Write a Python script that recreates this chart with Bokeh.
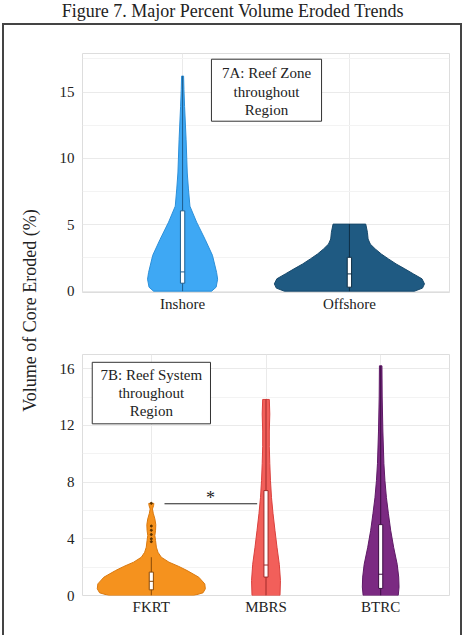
import numpy as np
from math import pi
from bokeh.plotting import figure
from bokeh.layouts import column, row
from bokeh.models import Range1d, FixedTicker, Label, Spacer, BoxAnnotation
from bokeh.embed import file_html
from bokeh.resources import INLINE

SERIF = "Liberation Serif"
TXT = "#222222"

# ---------------- Panel 7A: Reef Zone ----------------
zone_cats = ["Inshore", "Offshore"]
zone_colors = ["#3EA8F4", "#1F5A82"]
zone_lines = ["#2C8FD8", "#18496B"]
inshore_y = [0, 0.3, 0.9, 1.4, 2.7, 3.9, 5.2, 6.4, 7.7, 8.9, 11.4, 13.9, 15.2, 16.2]
inshore_w = [0.174, 0.201, 0.210, 0.204, 0.179, 0.135, 0.084, 0.044, 0.035, 0.028, 0.021, 0.012, 0.008, 0.006]
offshore_y = [0, 0.23, 0.55, 0.93, 1.3, 1.68, 2.05, 2.43, 2.8, 3.18, 3.55, 3.93, 4.43, 5.05]
offshore_w = [0.390, 0.438, 0.450, 0.435, 0.384, 0.332, 0.280, 0.234, 0.191, 0.155, 0.125, 0.112, 0.108, 0.098]
zone_q1 = [0.6, 0.3]
zone_med = [1.45, 1.3]
zone_q3 = [6.05, 2.55]
zone_lo = [0.0, 0.0]
zone_hi = [16.2, 5.05]

# ---------------- Panel 7B: Reef System ----------------
sys_cats = ["FKRT", "MBRS", "BTRC"]
sys_colors = ["#F5921E", "#F25F5A", "#7B2A82"]
sys_lines = ["#D9780E", "#D9403D", "#5E1A66"]
fkrt_y = [0, 0.19, 0.47, 0.82, 1.29, 1.76, 2.05, 2.35, 2.7, 3.05, 3.41, 3.88, 4.23, 4.6, 5.0, 5.4, 5.8, 6.1, 6.35, 6.5]
fkrt_w = [0.371, 0.451, 0.471, 0.466, 0.414, 0.312, 0.240, 0.154, 0.087, 0.058, 0.044, 0.037, 0.031, 0.037, 0.039, 0.031, 0.017, 0.010, 0.020, 0.022]
mbrs_y = [0, 1.06, 2.2, 3.4, 4.6, 5.8, 6.9, 8.1, 9.3, 10.5, 11.6, 12.8, 13.83]
mbrs_w = [0.122, 0.126, 0.116, 0.096, 0.078, 0.061, 0.048, 0.039, 0.033, 0.029, 0.029, 0.033, 0.029]
btrc_y = [0, 0.6, 1.3, 2.2, 3.4, 4.6, 5.8, 6.9, 8.1, 9.3, 11.6, 14.0, 16.2]
btrc_w = [0.153, 0.160, 0.157, 0.144, 0.113, 0.087, 0.067, 0.050, 0.037, 0.028, 0.019, 0.013, 0.011]
sys_q1 = [0.4, 1.3, 0.5]
sys_med = [1.0, 2.15, 1.5]
sys_q3 = [1.65, 7.4, 5.0]
sys_lo = [0.0, 0.0, 0.0]
sys_hi = [2.7, 13.83, 16.2]
fkrt_outliers = [3.8, 4.0, 4.3, 4.6, 4.9, 6.5]


def style(p, yticks, yminor, cats):
    p.outline_line_color = "#DDDDDD"
    p.background_fill_color = "white"
    p.border_fill_color = "white"
    p.yaxis.ticker = FixedTicker(ticks=yticks, minor_ticks=yminor)
    p.xaxis.ticker = FixedTicker(ticks=list(range(len(cats))))
    p.xaxis.major_label_overrides = {i: c for i, c in enumerate(cats)}
    for ax in (p.xaxis, p.yaxis):
        ax.axis_line_color = None
        ax.major_tick_line_color = None
        ax.minor_tick_line_color = None
        ax.major_tick_out = 0
        ax.major_tick_in = 0
        ax.minor_tick_out = 0
        ax.minor_tick_in = 0
        ax.major_label_text_font = SERIF
        ax.major_label_text_color = TXT
    p.yaxis.major_label_text_font_size = "15px"
    p.xaxis.major_label_text_font_size = "15px"
    p.yaxis.major_label_standoff = 8
    p.xaxis.major_label_standoff = 3
    p.ygrid.grid_line_color = "#EAEAEA"
    p.ygrid.minor_grid_line_color = "#F3F3F3"
    p.xgrid.grid_line_color = "#EAEAEA"


def violin(p, center, ys, ws, color, line):
    ys = np.asarray(ys, dtype=float)
    ws = np.asarray(ws, dtype=float)
    xs = np.concatenate([center + ws, (center - ws)[::-1]])
    yy = np.concatenate([ys, ys[::-1]])
    p.patch(xs, yy, fill_color=color, line_color=line, line_width=1)


def boxes(p, q1, med, q3, lo, hi, lines, bw):
    c = np.arange(len(q1), dtype=float)
    p.segment(x0=c, y0=lo, x1=c, y1=hi, line_color=lines, line_width=1)
    p.vbar(x=c, width=bw, bottom=q1, top=q3, fill_color="white",
           line_color=lines, line_width=1)
    p.segment(x0=c - bw / 2, y0=med, x1=c + bw / 2, y1=med,
              line_color=lines, line_width=1)


def boxed_text(p, left, right, bottom, top, lines_txt, xc, ys):
    p.add_layout(BoxAnnotation(left=left, right=right, bottom=bottom, top=top,
                               fill_color="white", fill_alpha=1.0,
                               line_color="#333333", line_width=1, line_alpha=1.0))
    for t, y in zip(lines_txt, ys):
        p.add_layout(Label(x=xc, y=y, text=t, text_align="center",
                           text_baseline="middle", text_font=SERIF,
                           text_font_size="15px", text_color=TXT))


# ---------------- top figure ----------------
top = figure(width=416, height=297, x_range=Range1d(-0.6, 1.6),
             y_range=Range1d(-0.1, 17.9), output_backend="svg",
             toolbar_location=None, min_border_left=38, min_border_right=11,
             min_border_top=28, min_border_bottom=30)
style(top, [0, 5, 10, 15], [2.5, 7.5, 12.5, 17.5], zone_cats)
violin(top, 0.0, inshore_y, inshore_w, zone_colors[0], zone_lines[0])
violin(top, 1.0, offshore_y, offshore_w, zone_colors[1], zone_lines[1])
boxes(top, zone_q1, zone_med, zone_q3, zone_lo, zone_hi, ["#1E5E8E", "#0E2E45"], 0.026)
boxed_text(top, 0.173, 0.833, 12.8, 17.47,
           ["7A: Reef Zone", "throughout", "Region"], 0.503, [16.42, 15.01, 13.61])

# ---------------- bottom figure ----------------
bot = figure(width=416, height=313, x_range=Range1d(-0.6, 2.6),
             y_range=Range1d(0, 17), output_backend="svg",
             toolbar_location=None, min_border_left=38, min_border_right=11,
             min_border_top=32, min_border_bottom=40)
style(bot, [0, 4, 8, 12, 16], [2, 6, 10, 14], sys_cats)
violin(bot, 0.0, fkrt_y, fkrt_w, sys_colors[0], sys_lines[0])
violin(bot, 1.0, mbrs_y, mbrs_w, sys_colors[1], sys_lines[1])
violin(bot, 2.0, btrc_y, btrc_w, sys_colors[2], sys_lines[2])
boxes(bot, sys_q1, sys_med, sys_q3, sys_lo, sys_hi, ["#8A4A08", "#A02A28", "#3E0E45"], 0.036)
bot.scatter(x=[0.0] * len(fkrt_outliers), y=fkrt_outliers, size=2,
            color="#5A3200")
boxed_text(bot, -0.515, 0.516, 12.11, 16.45,
           ["7B: Reef System", "throughout", "Region"], 0.0, [15.56, 14.27, 12.98])
# significance bracket
bot.line(x=[0.115, 0.923], y=[6.47, 6.47], line_color="#222222", line_width=1)
bot.add_layout(Label(x=0.516, y=6.9, text="*", text_align="center",
                     text_baseline="alphabetic", text_font=SERIF,
                     text_font_size="18px", text_color=TXT))

# ---------------- y label figure ----------------
lab = figure(width=40, height=610, x_range=Range1d(0, 40), y_range=Range1d(0, 610),
             output_backend="svg", toolbar_location=None, min_border=0,
             x_axis_location=None, y_axis_location=None)
lab.outline_line_color = None
lab.grid.visible = False
lab.add_layout(Label(x=25, y=325, text="Volume of Core Eroded (%)", angle=pi / 2,
                     text_align="center", text_baseline="middle", text_font=SERIF,
                     text_font_size="18px", text_color=TXT))

# ---------------- title figure ----------------
ttl = figure(width=465, height=23, x_range=Range1d(0, 465), y_range=Range1d(0, 23),
             output_backend="svg", toolbar_location=None, min_border=0,
             x_axis_location=None, y_axis_location=None)
ttl.outline_line_color = None
ttl.grid.visible = False
ttl.add_layout(Label(x=232.5, y=13, text="Figure 7. Major Percent Volume Eroded Trends",
                     text_align="center", text_baseline="middle", text_font=SERIF,
                     text_font_size="18px", text_color=TXT))

bg = {"background-color": "#444444"}
top_line = row(Spacer(width=2, height=2), Spacer(width=460, height=2, styles=bg))
main = row(Spacer(width=2, height=610), Spacer(width=2, height=610, styles=bg),
           lab, column(top, bot), Spacer(width=2, height=610, styles=bg))
page = column(ttl, top_line, main)

with open("out.html", "w") as f:
    f.write(file_html(page, INLINE))
